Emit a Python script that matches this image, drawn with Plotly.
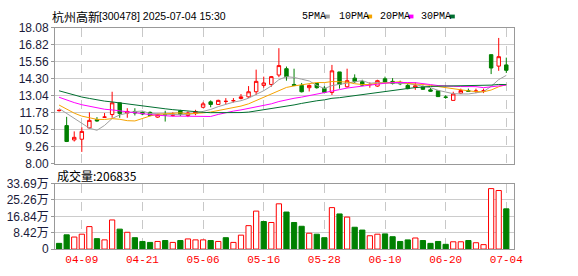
import plotly.graph_objects as go

W, H = 578, 276

# ---------------- data ----------------
dates = ["04-03", "04-07", "04-08", "04-09", "04-10", "04-11", "04-14", "04-15", "04-16", "04-17",
         "04-18", "04-21", "04-22", "04-23", "04-24", "04-25", "04-28", "04-29", "04-30", "05-06",
         "05-07", "05-08", "05-09", "05-12", "05-13", "05-14", "05-15", "05-16", "05-19", "05-20",
         "05-21", "05-22", "05-23", "05-26", "05-27", "05-28", "05-29", "05-30", "06-03", "06-04",
         "06-05", "06-06", "06-09", "06-10", "06-11", "06-12", "06-13", "06-16", "06-17", "06-18",
         "06-19", "06-20", "06-23", "06-24", "06-25", "06-26", "06-27", "07-02", "07-03", "07-04"]

opens = [11.93, 10.82, 9.76, 9.81, 10.65, 11.26, 11.44, 11.64, 12.51, 11.75,
         11.87, 11.80, 11.80, 11.45, 11.65, 11.57, 11.92, 11.57, 11.71, 12.18,
         12.58, 12.39, 12.61, 12.66, 12.83, 12.95, 13.33, 13.80, 13.87, 14.57,
         15.04, 13.87, 13.80, 13.63, 13.94, 13.59, 13.28, 14.80, 13.70, 14.34,
         14.08, 13.85, 13.75, 14.29, 14.10, 13.95, 13.80, 13.66, 13.70, 13.47,
         13.40, 12.94, 12.69, 13.23, 13.41, 13.37, 13.39, 16.08, 15.23, 15.32]
highs = [12.02, 11.47, 10.39, 10.70, 11.80, 11.45, 11.75, 13.33, 12.53, 12.11,
         12.11, 11.87, 11.87, 11.70, 11.92, 11.80, 11.99, 11.87, 11.99, 12.58,
         12.69, 12.74, 12.86, 12.86, 13.16, 13.75, 14.97, 14.45, 14.50, 16.56,
         15.20, 15.04, 13.98, 13.87, 13.98, 13.75, 15.32, 14.80, 15.04, 14.62,
         14.22, 14.03, 14.22, 14.45, 14.34, 14.15, 13.98, 14.03, 13.80, 13.61,
         13.40, 13.07, 13.33, 13.56, 13.56, 13.56, 13.56, 16.08, 17.32, 15.86]
lows = [11.86, 9.60, 9.64, 8.87, 10.60, 11.10, 11.40, 11.40, 11.40, 11.40,
        11.57, 11.59, 11.52, 11.40, 11.12, 11.50, 11.52, 11.45, 11.59, 12.11,
        12.18, 12.36, 12.39, 12.53, 12.76, 12.88, 13.09, 13.63, 13.70, 14.41,
        14.15, 13.75, 13.28, 13.35, 13.56, 13.21, 13.09, 13.56, 13.63, 13.98,
        13.75, 13.63, 13.70, 13.98, 13.87, 13.82, 13.51, 13.47, 13.47, 13.33,
        12.95, 12.81, 12.69, 13.16, 13.33, 13.23, 13.23, 14.64, 14.88, 14.73]
closes = [11.95, 9.64, 9.95, 10.39, 11.21, 11.17, 11.45, 12.51, 11.71, 11.87,
          11.75, 11.68, 11.57, 11.64, 11.62, 11.68, 11.64, 11.75, 11.87, 12.43,
          12.39, 12.69, 12.62, 12.67, 12.95, 13.33, 14.10, 13.98, 14.45, 15.27,
          14.45, 13.80, 13.33, 13.80, 13.63, 13.28, 14.88, 13.87, 14.15, 14.08,
          13.82, 13.87, 14.15, 14.05, 13.94, 13.93, 13.56, 13.77, 13.51, 13.37,
          12.97, 12.92, 13.16, 13.42, 13.36, 13.38, 13.40, 15.09, 15.93, 14.92]
# volume in 手 (lots)
volumes = [29300, 73200, 61800, 76500, 115600, 53700, 47200, 149700, 102500, 86300,
           58600, 39100, 34200, 39100, 43900, 34200, 43900, 52100, 47200, 47200,
           43900, 39100, 58600, 34200, 71600, 120400, 195300, 141600, 136700, 232700,
           190400, 136700, 117200, 81400, 76500, 58600, 213200, 180700, 164400, 112300,
           97700, 68400, 76500, 78100, 63500, 39100, 47200, 57000, 43900, 29300,
           39100, 24400, 37400, 37400, 43900, 32600, 22800, 310900, 301100, 206835]
# closes of the 29 sessions before the window (estimated from where the MA lines start)
prior_closes = [14.6, 14.8, 14.5, 14.3, 14.4, 14.2, 14.3, 14.1, 14.2, 14.2,
                13.8, 13.7, 13.6, 13.5, 13.6, 13.4, 13.5, 13.3, 13.4, 13.2,
                12.9, 12.7, 12.6, 12.5, 12.3, 11.5, 11.9, 12.2, 12.9]

price_ticks = [8.00, 9.26, 10.52, 11.78, 13.04, 14.30, 15.56, 16.82, 18.08]
vol_ticks = [0, 84200, 168400, 252600, 336900]
vol_tick_labels = ["0", "8.42万", "16.84万", "25.26万", "33.69万"]
date_ticks = ["04-09", "04-21", "05-06", "05-16", "05-28", "06-10", "06-20", "07-04"]
ma_periods = [5, 10, 20, 30]
ma_names = ["5PMA", "10PMA", "20PMA", "30PMA"]
title_name = "杭州高新"
title_rest = "[300478] 2025-07-04 15:30"
vol_title = "成交量:206835"

# ---------------- styles ----------------
RED = "#ff0000"
GREEN = "#008000"
ma_colors = ["#a0a0a0", "#f5a300", "#ff00ff", "#006f30"]
GRID = "#cccccc"
FRAME = "#999999"

def px_x(v):
    return v / W

def px_y(v):
    return 1 - v / H

# moving averages
allc = prior_closes + closes
npre = len(prior_closes)
mas = []
for p in ma_periods:
    vals = []
    for i in range(len(closes)):
        j = npre + i
        window = allc[j - p + 1:j + 1]
        vals.append(round(sum(window) / p, 3))
    mas.append(vals)

# volume colours: close vs previous close
prev = [prior_closes[-1]] + closes[:-1]
vol_up = [c >= pc for c, pc in zip(closes, prev)]

fig = go.Figure()

for name, vals, col in zip(ma_names, mas, ma_colors):
    fig.add_trace(go.Scatter(x=dates, y=vals, mode="lines", line=dict(color=col, width=1),
                             xaxis="x", yaxis="y", showlegend=False, hoverinfo="skip"))

fig.add_trace(go.Candlestick(
    x=dates, open=opens, high=highs, low=lows, close=closes,
    increasing=dict(line=dict(color=RED, width=1), fillcolor="#ffffff"),
    decreasing=dict(line=dict(color=GREEN, width=1), fillcolor=GREEN),
    whiskerwidth=0, xaxis="x", yaxis="y", showlegend=False))

fig.add_trace(go.Bar(
    x=dates, y=volumes, xaxis="x2", yaxis="y2", showlegend=False,
    marker=dict(color=["#ffffff" if u else GREEN for u in vol_up],
                line=dict(color=[RED if u else GREEN for u in vol_up], width=1))))

xdom = [px_x(56), px_x(522)]
xr = [-0.52, 60.0]
common_x = dict(domain=xdom, type="category", range=xr, tickvals=date_ticks,
                showgrid=True, griddash="dash", gridcolor="#c8c8c8", gridwidth=1,
                showline=True, mirror=True, linecolor=FRAME, linewidth=1,
                zeroline=False, fixedrange=True)

fig.update_layout(
    width=W, height=H, margin=dict(l=0, r=0, t=0, b=0),
    paper_bgcolor="white", plot_bgcolor="white",
    boxgap=0.35, bargap=0.31,
    xaxis=dict(**common_x, anchor="y", showticklabels=False, rangeslider=dict(visible=False)),
    yaxis=dict(domain=[px_y(165), px_y(21.8)], range=[8.0, 18.08], tickvals=price_ticks,
               ticktext=[f"{t:.2f}" for t in price_ticks], showgrid=True, gridcolor=GRID,
               showline=True, mirror=True, linecolor=FRAME, linewidth=1, zeroline=False,
               ticks="outside", ticklen=3, tickcolor=FRAME,
               tickfont=dict(family="Arial", size=12, color="#1a1a3a")),
    xaxis2=dict(**common_x, anchor="y2", ticktext=date_ticks, ticks="",
                tickfont=dict(family="Liberation Mono", size=11, color=RED)),
    yaxis2=dict(domain=[px_y(255), px_y(186)], range=[0, 336900], tickvals=vol_ticks,
                ticktext=vol_tick_labels, showgrid=True, gridcolor=GRID,
                showline=True, mirror=True, linecolor=FRAME, linewidth=1, zeroline=False,
                ticks="outside", ticklen=3, tickcolor=FRAME,
                tickfont=dict(family="Arial, Noto Sans CJK SC", size=12, color="#1a1a3a")),
    font=dict(family="Noto Sans CJK SC"),
)

ann = [dict(text=title_name, x=px_x(51), y=px_y(10), xref="paper", yref="paper",
            xanchor="left", yanchor="middle", showarrow=False,
            font=dict(family="Noto Sans CJK SC", size=12, color="#000000")),
       dict(text=title_rest, x=px_x(99), y=px_y(10), xref="paper", yref="paper",
            xanchor="left", yanchor="middle", showarrow=False,
            font=dict(family="Liberation Sans", size=10.5, color="#000000")),
       dict(text=vol_title, x=px_x(56), y=px_y(178), xref="paper", yref="paper",
            xanchor="left", yanchor="middle", showarrow=False,
            font=dict(family="Noto Sans CJK SC", size=12, color="#000000"))]
shapes = []
leg_x = [305, 342, 384, 426]
sq_x = [330, 373, 415, 457]
for lx, sx, name, col in zip(leg_x, sq_x, ma_names, ma_colors):
    ann.append(dict(text=name, x=px_x(lx), y=px_y(10), xref="paper", yref="paper",
                    xanchor="left", yanchor="middle", showarrow=False,
                    font=dict(family="Liberation Mono", size=10, color="#000000")))
    shapes.append(dict(type="rect", xref="paper", yref="paper",
                       x0=px_x(sx), x1=px_x(sx + 5), y0=px_y(12), y1=px_y(8),
                       fillcolor=col, line=dict(width=0)))

fig.update_layout(annotations=ann, shapes=shapes)
fig.write_html("out.html")
